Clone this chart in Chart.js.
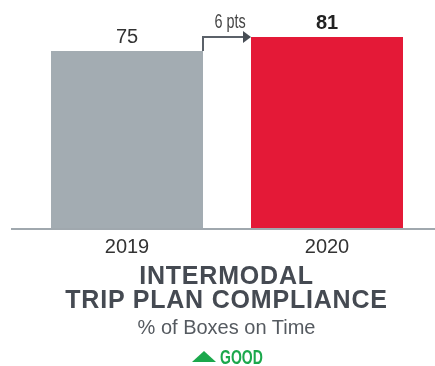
<!DOCTYPE html>
<html>
<head>
<meta charset="utf-8">
<script src="https://cdn.jsdelivr.net/npm/chart.js@4.4.0/dist/chart.umd.min.js"></script>
<style>
  html, body { margin: 0; padding: 0; background: #fff; }
  body { width: 435px; height: 366px; position: relative; overflow: hidden; font-family: "Liberation Sans", Arial, sans-serif; }
  #wrap { position: absolute; left: 0; top: 0; width: 435px; height: 262px; }
  .title { position: absolute; left: 9px; width: 435px; text-align: center; color: #454a52; font-weight: bold; font-size: 25px; letter-spacing: 0.8px; line-height: 24px; }
  #sub { position: absolute; left: 9px; width: 435px; top: 315px; text-align: center; color: #555a60; font-size: 20px; line-height: 24px; }
  #good { position: absolute; left: 192px; top: 346px; height: 22px; color: #1ba84c; }
  #tri { position: absolute; left: 0; top: 5px; width: 0; height: 0; border-left: 12px solid transparent; border-right: 12px solid transparent; border-bottom: 11px solid #1ba84c; }
  #goodtxt { position: absolute; left: 28px; top: 0; font-size: 20px; font-weight: bold; line-height: 22px; transform: scaleX(0.7); transform-origin: left center; }
</style>
</head>
<body>
<div id="wrap"><canvas id="myChart" width="435" height="262"></canvas></div>
<div class="title" style="top:263px">INTERMODAL</div>
<div class="title" style="top:287px">TRIP PLAN COMPLIANCE</div>
<div id="sub">% of Boxes on Time</div>
<div id="good"><div id="tri"></div><div id="goodtxt">GOOD</div></div>
<script>
const years = ['2019', '2020'];
const compliance = [75, 81];
const barColors = ['#a3acb2', '#e41937'];
const changeLabel = '6 pts';

window.onload = function() {
    // value labels over each bar, plus the step arrow between them
    const annotate = {
        id: 'annotate',
        afterDatasetsDraw(chart) {
            let ctx = chart.ctx;
            let bars = chart.getDatasetMeta(0).data;
            ctx.save();
            ctx.textAlign = 'center';
            ctx.textBaseline = 'alphabetic';
            bars.forEach((bar, i) => {
                ctx.fillStyle = i === 1 ? '#222' : '#333';
                ctx.font = (i === 1 ? 'bold ' : '') + '20px "Liberation Sans", Arial, sans-serif';
                ctx.fillText(compliance[i], bar.x, bar.y - 8);
            });

            // arrow from the 2019 bar top to the 2020 bar
            let a = bars[0], b = bars[1];
            let x0 = a.x + a.width / 2;
            let x1 = b.x - b.width / 2;
            ctx.strokeStyle = '#5b6169';
            ctx.fillStyle = '#474d55';
            ctx.lineWidth = 2;
            ctx.beginPath();
            ctx.moveTo(x0, a.y);
            ctx.lineTo(x0, b.y);
            ctx.lineTo(x1 - 7, b.y);
            ctx.stroke();
            ctx.beginPath();
            ctx.moveTo(x1 - 8, b.y - 6);
            ctx.lineTo(x1, b.y);
            ctx.lineTo(x1 - 8, b.y + 6);
            ctx.closePath();
            ctx.fill();

            // narrow label above the arrow
            ctx.fillStyle = '#444';
            ctx.font = '20px "Liberation Sans", Arial, sans-serif';
            ctx.translate((x0 + x1) / 2 + 3, b.y - 9);
            ctx.scale(0.72, 1);
            ctx.fillText(changeLabel, 0, 0);
            ctx.restore();

            // baseline across the full width
            let area = chart.chartArea;
            ctx.save();
            ctx.strokeStyle = '#a0a8ae';
            ctx.lineWidth = 2;
            ctx.beginPath();
            ctx.moveTo(11, area.bottom + 1);
            ctx.lineTo(chart.width, area.bottom + 1);
            ctx.stroke();
            ctx.restore();
        }
    };

    let ctx = document.getElementById('myChart').getContext('2d');
    new Chart(ctx, {
        type: 'bar',
        data: {
            labels: years,
            datasets: [{
                data: compliance,
                backgroundColor: barColors,
                categoryPercentage: 1,
                barPercentage: 0.76
            }]
        },
        options: {
            responsive: false,
            animation: false,
            layout: { padding: { left: 27, right: 8, top: 10, bottom: 0 } },
            plugins: { legend: { display: false }, tooltip: { enabled: false } },
            scales: {
                y: { display: false, min: 0, max: 92.4 },
                x: {
                    grid: { display: false, drawTicks: false },
                    border: { display: false },
                    ticks: { color: '#333', padding: 7, font: { family: '"Liberation Sans", Arial, sans-serif', size: 20 } },
                    afterFit: function(scale) { scale.height = 34; }
                }
            }
        },
        plugins: [annotate]
    });
};
</script>
</body>
</html>
